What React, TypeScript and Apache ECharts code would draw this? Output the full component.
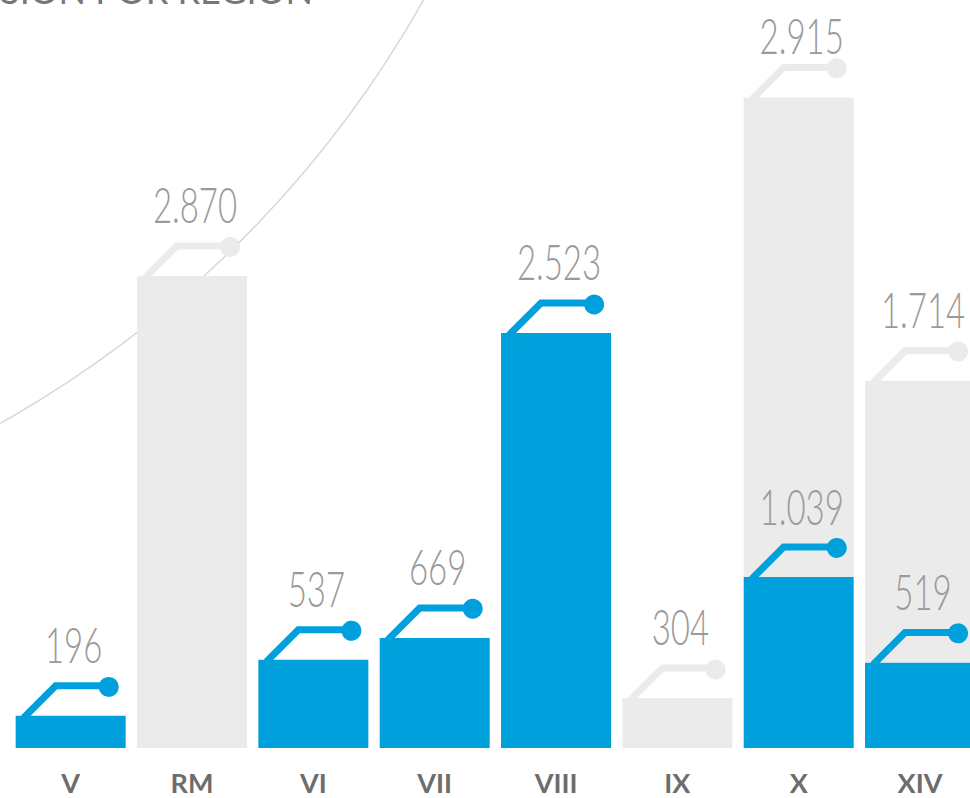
import React, { useEffect, useRef } from "react";
import * as echarts from "echarts";

const categories = ["V", "RM", "VI", "VII", "VIII", "IX", "X", "XIV"];
const blueValues: (number | null)[] = [196, null, 537, 669, 2523, null, 1039, 519];
const grayValues: (number | null)[] = [null, 2870, null, null, null, 304, 2915, 1714];
const titleText = "INVERSION POR REGION";

const BLUE = "#00a0dc";
const GRAY = "#ebebeb";
const BAR_W = 110;

function fmt(v: number): string {
  return String(v).replace(/\B(?=(\d{3})+(?!\d))/g, ".");
}

function makeLabelRender(color: string) {
  return (params: any, api: any) => {
    const i = api.value(0);
    const base = api.value(1);
    const v = api.value(2);
    const pt = api.coord([i, base + v]);
    const cx = pt[0];
    const top = pt[1];
    const L = cx - BAR_W / 2;
    const R = cx + BAR_W / 2;
    const hy = top - 30;
    return {
      type: "group",
      children: [
        {
          type: "polyline",
          shape: { points: [[L + 8, top + 2], [L + 40, hy], [R - 17, hy]] },
          style: { stroke: color, lineWidth: 7, fill: "none", lineJoin: "miter" },
        },
        {
          type: "circle",
          shape: { cx: R - 17, cy: hy, r: 10 },
          style: { fill: color },
        },
        {
          type: "text",
          x: cx + 3,
          y: Math.max(top - 72, 35),
          scaleX: 0.66,
          style: {
            text: fmt(v),
            x: 0,
            y: 0,
            align: "center",
            verticalAlign: "middle",
            fill: "#9a9a9a",
            fontFamily: "Lato",
            fontWeight: 300,
            fontSize: 50,
          },
        },
      ],
    };
  };
}

export default function App() {
  const ref = useRef<HTMLDivElement>(null);
  useEffect(() => {
    if (!ref.current) return;
    const chart = echarts.init(ref.current, null, { renderer: "svg" });
    const blueLabelData: number[][] = [];
    const grayLabelData: number[][] = [];
    categories.forEach((_, i) => {
      const b = blueValues[i];
      const g = grayValues[i];
      if (b != null) blueLabelData.push([i, 0, b]);
      if (g != null) grayLabelData.push([i, b ?? 0, g]);
    });
    chart.setOption({
      animation: false,
      backgroundColor: "#ffffff",
      grid: { left: 10, right: 9.3, top: 90, bottom: 50, containLabel: false },
      xAxis: {
        type: "category",
        data: categories,
        axisLine: { show: false },
        axisTick: { show: false },
        splitLine: { show: false },
        axisLabel: {
          color: "#6d6d6d",
          fontFamily: "Lato",
          fontWeight: "bold",
          fontSize: 27,
          margin: 21,
        },
      },
      yAxis: {
        type: "value",
        min: 0,
        max: 4000,
        show: false,
        splitLine: { show: false },
      },
      graphic: [
        {
          type: "circle",
          z: 0,
          silent: true,
          shape: { cx: -544, cy: -544, r: 1110 },
          style: { fill: "none", stroke: "#d8d8d8", lineWidth: 1.5 },
        },
        {
          type: "text",
          z: 0,
          x: 313,
          y: -10,
          style: {
            text: titleText,
            align: "right",
            verticalAlign: "middle",
            fill: "#777777",
            fontFamily: "Lato",
            fontSize: 36,
          },
        },
      ],
      series: [
        {
          type: "bar",
          name: "blue",
          stack: "total",
          data: blueValues.map((v) => (v == null ? "-" : v)),
          barWidth: BAR_W,
          itemStyle: { color: BLUE },
          z: 2,
        },
        {
          type: "bar",
          name: "gray",
          stack: "total",
          data: grayValues.map((v) => (v == null ? "-" : v)),
          barWidth: BAR_W,
          itemStyle: { color: GRAY },
          z: 2,
        },
        {
          type: "custom",
          name: "grayLabels",
          data: grayLabelData,
          renderItem: makeLabelRender(GRAY),
          z: 3,
        },
        {
          type: "custom",
          name: "blueLabels",
          data: blueLabelData,
          renderItem: makeLabelRender(BLUE),
          z: 4,
        },
      ],
    });
    return () => chart.dispose();
  }, []);
  return (
    <div
      style={{
        position: "absolute",
        left: 0,
        top: 0,
        width: 970,
        height: 798,
        overflow: "hidden",
      }}
    >
      <div ref={ref} style={{ width: 990, height: 798 }} />
    </div>
  );
}
